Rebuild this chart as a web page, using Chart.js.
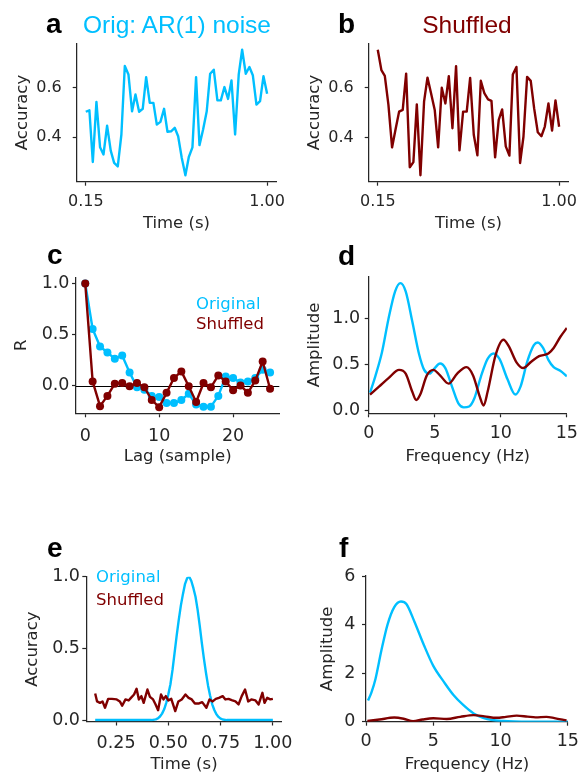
<!DOCTYPE html>
<html>
<head>
<meta charset="utf-8">
<script src="https://cdn.jsdelivr.net/npm/chart.js@4.4.1/dist/chart.umd.min.js"></script>
<style>
body { margin: 0; background: #fff; }
#fig { position: relative; width: 584px; height: 773px; overflow: hidden; background: #fff; }
#fig canvas { position: absolute; }
.txt { position: absolute; white-space: nowrap; line-height: 1; }
</style>
</head>
<body>
<div id="fig"></div>
<script>
var BLUE = "#00bfff", RED = "#800000", INK = "#262626";

// a, b: accuracy over time, one sample every 1/60 s
var sampleTimes = [0.150, 0.167, 0.183, 0.200, 0.217, 0.233, 0.250, 0.267, 0.283, 0.300,
	0.317, 0.333, 0.350, 0.367, 0.383, 0.400, 0.417, 0.433, 0.450, 0.467,
	0.483, 0.500, 0.517, 0.533, 0.550, 0.567, 0.583, 0.600, 0.617, 0.633,
	0.650, 0.667, 0.683, 0.700, 0.717, 0.733, 0.750, 0.767, 0.783, 0.800,
	0.817, 0.833, 0.850, 0.867, 0.883, 0.900, 0.917, 0.933, 0.950, 0.967,
	0.983, 1.000];
var accOriginal = [0.503, 0.509, 0.300, 0.543, 0.359, 0.330, 0.447, 0.346, 0.296, 0.282,
	0.411, 0.688, 0.654, 0.505, 0.573, 0.503, 0.515, 0.643, 0.539, 0.539,
	0.451, 0.462, 0.515, 0.422, 0.424, 0.438, 0.404, 0.316, 0.246, 0.320,
	0.359, 0.643, 0.368, 0.431, 0.505, 0.657, 0.673, 0.549, 0.549, 0.603,
	0.555, 0.630, 0.411, 0.654, 0.754, 0.657, 0.684, 0.651, 0.532, 0.546,
	0.647, 0.576];
var accShuffled = [0.753, 0.671, 0.648, 0.531, 0.360, 0.431, 0.504, 0.511, 0.657, 0.280,
	0.301, 0.533, 0.248, 0.544, 0.641, 0.577, 0.511, 0.360, 0.600, 0.537,
	0.647, 0.437, 0.687, 0.348, 0.504, 0.504, 0.640, 0.411, 0.328, 0.628,
	0.577, 0.553, 0.547, 0.320, 0.471, 0.513, 0.364, 0.327, 0.653, 0.684,
	0.297, 0.404, 0.644, 0.628, 0.517, 0.421, 0.405, 0.444, 0.537, 0.428,
	0.549, 0.443];

// c: autocorrelation
var lags = [0, 1, 2, 3, 4, 5, 6, 7, 8, 9, 10, 11, 12, 13, 14, 15, 16, 17, 18, 19, 20, 21, 22, 23, 24, 25];
var acfOriginal = [1.0, 0.555, 0.383, 0.325, 0.263, 0.295, 0.13, -0.016, -0.04, -0.10, -0.11, -0.17, -0.17,
	-0.14, -0.08, -0.185, -0.205, -0.205, -0.10, 0.09, 0.075, 0.03, 0.04, 0.075, 0.155, 0.13];
var acfShuffled = [1.0, 0.042, -0.20, -0.10, 0.02, 0.026, -0.006, 0.026, -0.016, -0.14, -0.21, -0.07, 0.075,
	0.14, -0.006, -0.16, 0.026, -0.016, 0.10, 0.042, -0.045, 0.003, -0.07, 0.05, 0.236, -0.03];

// d: amplitude spectrum
var specFreqOrig = [0.1, 0.5, 1.0, 1.5, 2.0, 2.4, 2.8, 3.3, 3.8, 4.2, 4.6, 5.0, 5.4, 5.8, 6.3, 6.8, 7.2,
	7.6, 8.0, 8.5, 9.0, 9.45, 9.9, 10.5, 11.1, 11.5, 12.0, 12.5, 12.8, 13.2, 13.6, 14.0, 14.5, 15.0];
var specAmpOrig = [0.19, 0.37, 0.63, 1.0, 1.30, 1.39, 1.30, 0.97, 0.62, 0.44, 0.40, 0.46, 0.51, 0.46, 0.26, 0.07, 0.03,
	0.04, 0.13, 0.37, 0.56, 0.62, 0.56, 0.34, 0.17, 0.26, 0.53, 0.71, 0.74, 0.68, 0.55, 0.47, 0.43, 0.37];
var specFreqShuf = [0.1, 0.8, 1.5, 2.3, 2.8, 3.3, 3.6, 3.9, 4.4, 4.9, 5.4, 6.05, 6.7, 7.4, 7.9, 8.4, 8.7,
	9.0, 9.6, 10.2, 10.6, 11.2, 11.7, 12.3, 12.9, 13.6, 14.0, 14.5, 15.0];
var specAmpShuf = [0.17, 0.26, 0.35, 0.44, 0.40, 0.20, 0.11, 0.17, 0.38, 0.44, 0.38, 0.29, 0.40, 0.47, 0.38, 0.15, 0.05,
	0.20, 0.60, 0.77, 0.70, 0.52, 0.46, 0.53, 0.59, 0.62, 0.68, 0.80, 0.90];

// e: transient peak vs shuffled
var peakTimes = [0.15, 0.40, 0.42, 0.44, 0.45, 0.46, 0.47, 0.48, 0.49, 0.50, 0.51, 0.52, 0.53, 0.54, 0.55,
	0.56, 0.57, 0.58, 0.59, 0.60, 0.61, 0.62, 0.63, 0.64, 0.65, 0.66, 0.67, 0.68, 0.69, 0.70,
	0.71, 0.72, 0.73, 0.74, 0.75, 0.76, 0.78, 0.80, 1.00];
var peakOriginal = [0, 0, 0, 0.005, 0.012, 0.025, 0.045, 0.075, 0.12, 0.18, 0.25, 0.35, 0.47, 0.59, 0.70,
	0.80, 0.88, 0.95, 0.99, 1.0, 0.97, 0.92, 0.86, 0.77, 0.66, 0.54, 0.43, 0.33, 0.24, 0.17,
	0.11, 0.07, 0.04, 0.022, 0.01, 0.004, 0, 0, 0];
var noiseTimes = [0.15, 0.159, 0.173, 0.185, 0.197, 0.212, 0.23, 0.253, 0.268, 0.279,
	0.295, 0.31, 0.321, 0.336, 0.348, 0.359, 0.371, 0.382, 0.40, 0.412,
	0.427, 0.439, 0.451, 0.465, 0.477, 0.488, 0.50, 0.514, 0.533, 0.548,
	0.564, 0.582, 0.597, 0.612, 0.627, 0.647, 0.662, 0.682, 0.697, 0.712,
	0.727, 0.742, 0.76, 0.773, 0.788, 0.803, 0.821, 0.836, 0.851, 0.867,
	0.882, 0.897, 0.917, 0.932, 0.95, 0.96, 0.973, 0.988, 1.0];
var noiseShuffled = [0.185, 0.13, 0.12, 0.13, 0.086, 0.148, 0.148, 0.144, 0.13, 0.10,
	0.144, 0.137, 0.155, 0.178, 0.218, 0.144, 0.167, 0.12, 0.213, 0.162,
	0.144, 0.109, 0.069, 0.178, 0.144, 0.167, 0.137, 0.148, 0.063, 0.13,
	0.144, 0.178, 0.155, 0.144, 0.116, 0.116, 0.125, 0.086, 0.144, 0.13,
	0.148, 0.155, 0.167, 0.144, 0.148, 0.139, 0.13, 0.109, 0.167, 0.213,
	0.13, 0.144, 0.137, 0.109, 0.19, 0.12, 0.155, 0.144, 0.148];

// f: spectrum of e
var peakFreq = [0.15, 0.4, 0.7, 1.15, 1.6, 2.1, 2.6, 3.0, 3.6, 4.3, 5.0, 5.8, 6.5, 7.2, 8.0, 8.7, 9.4, 10.2, 11.0, 12.0, 15.0];
var peakAmp = [0.87, 1.2, 1.75, 2.95, 4.0, 4.72, 4.95, 4.85, 4.12, 3.16, 2.3, 1.63, 1.1, 0.7, 0.34, 0.16, 0.07, 0.03, 0.01, 0.0, 0.0];
var noiseFreq = [0.1, 1.0, 2.1, 2.8, 3.5, 4.2, 5.0, 6.0, 7.0, 8.0, 8.8, 9.7, 10.4, 11.2, 12.0, 12.6, 13.4, 14.0, 14.9];
var noiseAmp = [0.03, 0.09, 0.17, 0.12, 0.02, 0.09, 0.14, 0.11, 0.20, 0.27, 0.22, 0.16, 0.20, 0.25, 0.21, 0.18, 0.20, 0.15, 0.05];

var fig = document.getElementById("fig");

function pairs(xs, ys) {
	return xs.map(function(x, i) { return {x: x, y: ys[i]}; });
}

function series(xs, ys, color, extra) {
	var ds = {
		data: pairs(xs, ys),
		borderColor: color,
		backgroundColor: color,
		borderWidth: 2.4,
		borderJoinStyle: "round",
		pointRadius: 0,
		fill: false
	};
	for (var k in extra) ds[k] = extra[k];
	return ds;
}

// y = 0 reference line of panel c
var zeroLine = {
	id: "zeroLine",
	beforeDatasetsDraw: function(chart) {
		var ctx = chart.ctx, a = chart.chartArea;
		var y = Math.round(chart.scales.y.getPixelForValue(0)) + 0.5;
		ctx.save();
		ctx.strokeStyle = "#000";
		ctx.lineWidth = 1;
		ctx.beginPath();
		ctx.moveTo(a.left, y);
		ctx.lineTo(a.right, y);
		ctx.stroke();
		ctx.restore();
	}
};

function axis(spec, horizontal, size, extent, tickSize) {
	var lh = 16.5 * 1.2;
	var titlePad = horizontal ? {top: 0, bottom: extent - lh / 2 - spec.titleMid} : {top: spec.titleMid - lh / 2, bottom: 0};
	return {
		type: "linear",
		min: spec.range[0],
		max: spec.range[1],
		afterBuildTicks: function(s) {
			s.ticks = spec.ticks.map(function(v) { return {value: v}; });
		},
		afterFit: function(s) {
			if (horizontal) s.height = size; else s.width = size;
		},
		ticks: {
			color: INK,
			autoSkip: false,
			maxRotation: 0,
			padding: spec.pad,
			font: {family: "DejaVu Sans", size: tickSize},
			callback: function(v) { return v.toFixed(spec.digits); }
		},
		grid: {
			display: true,
			drawOnChartArea: false,
			drawTicks: true,
			tickLength: 4,
			tickWidth: 1.2,
			color: INK,
			tickColor: INK
		},
		border: {display: true, color: INK, width: 1.25},
		title: {
			display: true,
			text: spec.title,
			color: INK,
			font: {family: "DejaVu Sans", size: 16.5},
			padding: titlePad
		}
	};
}

function addPanel(p) {
	var W = p.box[2], H = p.box[3], area = p.area;
	var cvs = document.createElement("canvas");
	cvs.setAttribute("width", W);
	cvs.setAttribute("height", H);
	cvs.style.left = p.box[0] + "px";
	cvs.style.top = p.box[1] + "px";
	fig.appendChild(cvs);

	new Chart(cvs, {
		type: "line",
		data: {datasets: p.datasets},
		options: {
			responsive: false,
			animation: false,
			devicePixelRatio: 1,
			layout: {padding: {left: 0, top: area[1], right: W - area[2], bottom: 0}},
			plugins: {legend: {display: false}, tooltip: {enabled: false}},
			scales: {
				x: axis(p.x, true, H - area[3], H, p.tickSize),
				y: axis(p.y, false, area[0], W, p.tickSize)
			}
		},
		plugins: p.zero ? [zeroLine] : []
	});
}

function text(str, x, base, size, color, family, bold, center) {
	var el = document.createElement("div");
	el.className = "txt";
	el.textContent = str;
	el.style.left = x + "px";
	el.style.top = (base - 0.846 * size) + "px";
	el.style.fontSize = size + "px";
	el.style.fontFamily = family;
	el.style.fontWeight = bold ? "bold" : "normal";
	el.style.color = color;
	if (center) el.style.transform = "translateX(-50%)";
	fig.appendChild(el);
}

var smooth = {cubicInterpolationMode: "monotone"};
var dots = {pointRadius: 4, pointBorderWidth: 0, pointHoverRadius: 4};

addPanel({
	box: [0, 0, 292, 250], area: [76.7, 43.3, 279.3, 181.7], tickSize: 16,
	x: {range: [0.1075, 1.0425], ticks: [0.15, 1.0], digits: 2, title: "Time (s)", pad: 6.5, titleMid: 224},
	y: {range: [0.22, 0.78], ticks: [0.4, 0.6], digits: 1, title: "Accuracy", pad: 11, titleMid: 23},
	datasets: [series(sampleTimes, accOriginal, BLUE)]
});
addPanel({
	box: [292, 0, 292, 250], area: [76.7, 43.3, 279.3, 181.7], tickSize: 16,
	x: {range: [0.1075, 1.0425], ticks: [0.15, 1.0], digits: 2, title: "Time (s)", pad: 6.5, titleMid: 224},
	y: {range: [0.222, 0.779], ticks: [0.4, 0.6], digits: 1, title: "Accuracy", pad: 11, titleMid: 23},
	datasets: [series(sampleTimes, accShuffled, RED)]
});
addPanel({
	box: [0, 250, 292, 260], area: [76, 27.3, 279.3, 163.3], tickSize: 17.5, zero: true,
	x: {range: [-1.25, 26.25], ticks: [0, 10, 20], digits: 0, title: "Lag (sample)", pad: 8.5, titleMid: 207},
	y: {range: [-0.27, 1.06], ticks: [0, 0.5, 1.0], digits: 1, title: "R", pad: 2.5, titleMid: 22},
	datasets: [series(lags, acfShuffled, RED, dots), series(lags, acfOriginal, BLUE, dots)]
});
addPanel({
	box: [292, 250, 292, 260], area: [76.7, 26.7, 279.3, 163.3], tickSize: 17.5,
	x: {range: [0, 15], ticks: [0, 5, 10, 15], digits: 0, title: "Frequency (Hz)", pad: 6, titleMid: 207},
	y: {range: [-0.035, 1.46], ticks: [0, 0.5, 1.0], digits: 1, title: "Amplitude", pad: 4.5, titleMid: 22.5},
	datasets: [series(specFreqShuf, specAmpShuf, RED, smooth), series(specFreqOrig, specAmpOrig, BLUE, smooth)]
});
addPanel({
	box: [0, 520, 300, 260], area: [86.3, 56.7, 292, 201.5], tickSize: 17.5,
	x: {range: [0.1075, 1.0425], ticks: [0.25, 0.5, 0.75, 1.0], digits: 2, title: "Time (s)", pad: 7.3, titleMid: 245},
	y: {range: [-0.01, 1.0], ticks: [0, 0.5, 1.0], digits: 1, title: "Accuracy", pad: 2.3, titleMid: 33},
	datasets: [series(noiseTimes, noiseShuffled, RED), series(peakTimes, peakOriginal, BLUE)]
});
addPanel({
	box: [292, 520, 292, 260], area: [74, 56, 279.3, 201.7], tickSize: 17.5,
	x: {range: [0, 15], ticks: [0, 5, 10, 15], digits: 0, title: "Frequency (Hz)", pad: 5, titleMid: 245},
	y: {range: [0, 6], ticks: [0, 2, 4, 6], digits: 0, title: "Amplitude", pad: 6.5, titleMid: 36},
	datasets: [series(noiseFreq, noiseAmp, RED, smooth), series(peakFreq, peakAmp, BLUE, smooth)]
});

// panel letters, titles and in-axes legends
var SANS = "'Liberation Sans', Arial, sans-serif", DEJA = "'DejaVu Sans', sans-serif";
text("a", 46, 33.3, 28, "#000", SANS, true);
text("b", 338, 33.3, 28, "#000", SANS, true);
text("c", 47, 265, 28, "#000", SANS, true);
text("d", 338, 266, 28, "#000", SANS, true);
text("e", 47, 558, 28, "#000", SANS, true);
text("f", 339, 558, 28, "#000", SANS, true);
text("Orig: AR(1) noise", 177, 33.3, 24.5, BLUE, SANS, false, true);
text("Shuffled", 467, 33.3, 24.5, RED, SANS, false, true);
text("Original", 196, 309.5, 16.5, BLUE, DEJA);
text("Shuffled", 196, 330, 16.5, RED, DEJA);
text("Original", 96, 583.3, 16.5, BLUE, DEJA);
text("Shuffled", 96, 606, 16.5, RED, DEJA);
</script>
</body>
</html>
